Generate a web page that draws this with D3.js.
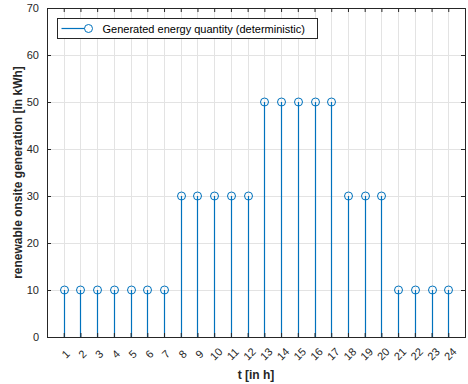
<!DOCTYPE html>
<html>
<head>
<meta charset="utf-8">
<script src="https://cdn.jsdelivr.net/npm/d3@7"></script>
<style>
  body { margin: 0; background: #fff; }
  svg { display: block; font-family: "Liberation Sans", Arial, sans-serif; }
</style>
</head>
<body>
<div id="chart"></div>
<script>
'use strict';

// hours of the day and generated energy per hour
const hours = d3.range(1, 25);
const energy = [10, 10, 10, 10, 10, 10, 10, 30, 30, 30, 30, 30,
                50, 50, 50, 50, 50, 30, 30, 30, 10, 10, 10, 10];
const yTicks = [0, 10, 20, 30, 40, 50, 60, 70];
const legendLabel = "Generated energy quantity (deterministic)";

const width = 468, height = 384;
const margin = { top: 8, right: 3, bottom: 47, left: 47 };
const blue = "#0072BD";
const axisColor = "#262626";

const svg = d3.select("#chart").append("svg")
  .attr("width", width)
  .attr("height", height);

const x = d3.scaleLinear().domain([0, 25]).range([margin.left, width - margin.right]);
const y = d3.scaleLinear().domain([0, 70]).range([height - margin.bottom, margin.top]);

// grid
const grid = svg.append("g").attr("stroke", "#e3e3e3").attr("stroke-width", 1);
grid.selectAll(".gx").data(hours).enter().append("line")
  .attr("x1", (d) => Math.round(x(d)) + 0.5).attr("x2", (d) => Math.round(x(d)) + 0.5)
  .attr("y1", y(70)).attr("y2", y(0));
grid.selectAll(".gy").data(yTicks).enter().append("line")
  .attr("x1", x(0)).attr("x2", x(25))
  .attr("y1", (d) => Math.round(y(d)) + 0.5).attr("y2", (d) => Math.round(y(d)) + 0.5);

// stems
svg.append("g").selectAll("line").data(hours).enter().append("line")
  .attr("x1", (d) => Math.round(x(d)) + 0.5).attr("x2", (d) => Math.round(x(d)) + 0.5)
  .attr("y1", y(0)).attr("y2", (d, i) => y(energy[i]))
  .attr("stroke", blue).attr("stroke-width", 1.2);

svg.append("g").selectAll("circle").data(hours).enter().append("circle")
  .attr("cx", (d) => Math.round(x(d)) + 0.5)
  .attr("cy", (d, i) => y(energy[i]))
  .attr("r", 4)
  .attr("fill", "none").attr("stroke", blue).attr("stroke-width", 1);

// axes (ticks pointing inward, box on)
const tickLen = 4;
const bottomAxis = svg.append("g")
  .attr("transform", `translate(0,${y(0)})`)
  .call(d3.axisBottom(x).tickValues(hours).tickSize(-tickLen).tickFormat(""));
const topAxis = svg.append("g")
  .attr("transform", `translate(0,${y(70)})`)
  .call(d3.axisTop(x).tickValues(hours).tickSize(-tickLen).tickFormat(""));
const leftAxis = svg.append("g")
  .attr("transform", `translate(${x(0)},0)`)
  .call(d3.axisLeft(y).tickValues(yTicks).tickSize(-tickLen).tickPadding(8));
const rightAxis = svg.append("g")
  .attr("transform", `translate(${x(25)},0)`)
  .call(d3.axisRight(y).tickValues(yTicks).tickSize(-tickLen).tickFormat(""));

[bottomAxis, topAxis, leftAxis, rightAxis].forEach((g) => {
  g.select(".domain").attr("stroke", axisColor);
  g.selectAll(".tick line").attr("stroke", axisColor);
});
leftAxis.selectAll("text")
  .attr("font-size", 11).attr("fill", axisColor)
  .attr("font-family", "Liberation Sans, Arial, sans-serif");

// rotated x tick labels
svg.append("g").selectAll("text").data(hours).enter().append("text")
  .attr("transform", (d) => `translate(${x(d) + 2},${y(0) + 17}) rotate(-45)`)
  .attr("text-anchor", "middle")
  .attr("dy", "0.35em")
  .attr("font-size", 11)
  .attr("fill", axisColor)
  .text((d) => d);

// axis titles
svg.append("text")
  .attr("x", (x(0) + x(25)) / 2).attr("y", 379)
  .attr("text-anchor", "middle")
  .attr("font-size", 12).attr("font-weight", "bold")
  .attr("fill", axisColor)
  .text("t [in h]");

svg.append("text")
  .attr("transform", `translate(22,${(y(0) + y(70)) / 2}) rotate(-90)`)
  .attr("text-anchor", "middle")
  .attr("font-size", 12).attr("font-weight", "bold")
  .attr("fill", axisColor)
  .text("renewable onsite generation [in kWh]");

// legend
const legend = svg.append("g").attr("transform", "translate(57.5,18.5)");
legend.append("rect")
  .attr("width", 260).attr("height", 20)
  .attr("fill", "#fff").attr("stroke", axisColor).attr("stroke-width", 1);
legend.append("line")
  .attr("x1", 4).attr("x2", 31).attr("y1", 10).attr("y2", 10)
  .attr("stroke", blue).attr("stroke-width", 1.2);
legend.append("circle")
  .attr("cx", 31).attr("cy", 10).attr("r", 4)
  .attr("fill", "#fff").attr("stroke", blue);
legend.append("text")
  .attr("x", 45).attr("y", 14)
  .attr("font-size", 11).attr("fill", "#000")
  .text(legendLabel);
</script>
</body>
</html>
